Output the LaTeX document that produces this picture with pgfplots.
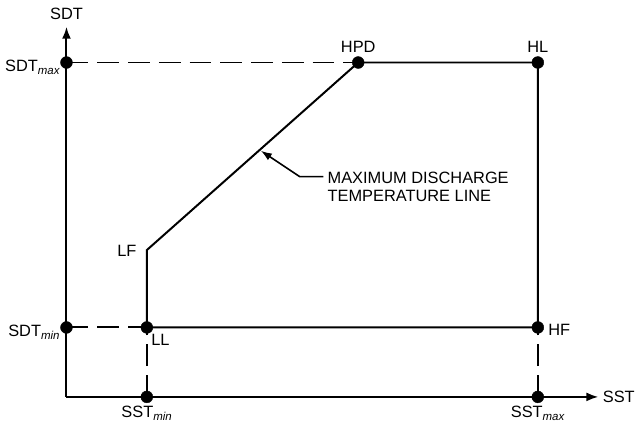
\documentclass[border=0pt]{standalone}
\usepackage{pgfplots}
\pgfplotsset{compat=1.18}
\usepackage{fontspec}
\setmainfont{Liberation Sans}
\usetikzlibrary{arrows.meta}
\begin{document}
\begin{tikzpicture}
\begin{axis}[
  x=1pt, y=1pt, hide axis, clip=false,
  xmin=-20, xmax=536, ymin=-20, ymax=373,
  font=\fontsize{16.5}{18}\selectfont,
]
% bounding box
\path (axis cs:-67,-30) rectangle (axis cs:571,400);
% axes
\addplot[line width=2pt, -{Latex[length=12pt,width=9pt]}, no marks] coordinates {(0,0) (536,0)};
\addplot[line width=2pt, -{Latex[length=12pt,width=9pt]}, no marks] coordinates {(0,0) (0,373)};
% dashed guide lines
\addplot[line width=2pt, dash pattern=on 22pt off 9pt, no marks] coordinates {(0,337) (294,337)};
\addplot[line width=2pt, dash pattern=on 22pt off 9pt, no marks] coordinates {(0,70) (81,70)};
\addplot[line width=2pt, dash pattern=on 22pt off 9pt, no marks] coordinates {(81,0) (81,70)};
\addplot[line width=2pt, dash pattern=on 22pt off 9pt, no marks] coordinates {(475,0) (475,70)};
% envelope
\addplot[line width=2pt, no marks] coordinates {(81,70) (81,148) (294,337) (475,337) (475,70) (81,70)};
% dots
\addplot[only marks, mark=*, mark size=6pt, black] coordinates {(0,337) (0,70) (81,70) (294,337) (475,337) (475,70)};
\addplot[only marks, mark=*, mark size=6pt, black] coordinates {(81,0) (475,0)};
% annotation arrow
\addplot[line width=1.6pt, {Latex[length=11pt,width=8pt]}-, no marks] coordinates {(196,248) (235,222) (259,222)};
% labels
\node[anchor=base] at (axis cs:0,380) {SDT};
\node[anchor=east] at (axis cs:-3,332) {SDT\textsubscript{\itshape max}};
\node[anchor=east] at (axis cs:-3,65) {SDT\textsubscript{\itshape min}};
\node[anchor=west] at (axis cs:82,57) {LL};
\node[anchor=north] at (axis cs:81,-6) {SST\textsubscript{\itshape min}};
\node[anchor=north] at (axis cs:475,-6) {SST\textsubscript{\itshape max}};
\node[anchor=west] at (axis cs:537,0) {SST};
\node[anchor=west] at (axis cs:482,68) {HF};
\node[anchor=south] at (axis cs:475,344) {HL};
\node[anchor=south] at (axis cs:294,344) {HPD};
\node[anchor=east] at (axis cs:74,147) {LF};
\node[anchor=west, align=left, inner sep=0pt, font=\fontsize{16.5}{18}\selectfont] at (axis cs:263,212) {MAXIMUM DISCHARGE\\TEMPERATURE LINE};
\end{axis}
\end{tikzpicture}
\end{document}
